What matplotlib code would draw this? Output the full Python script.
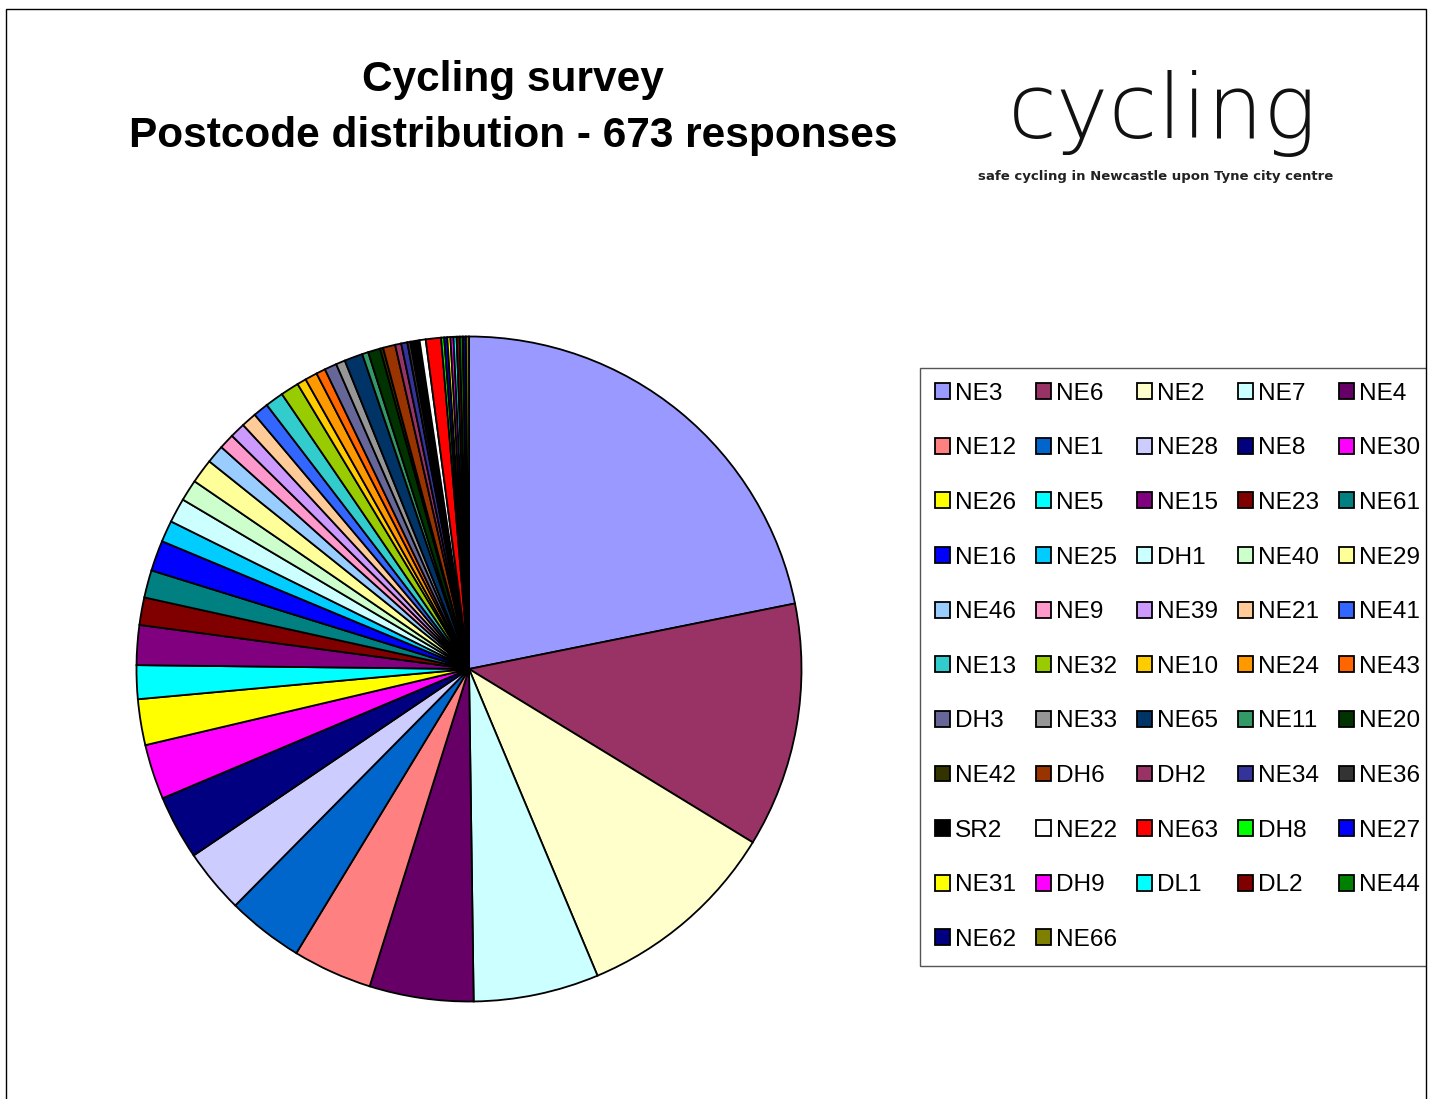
import matplotlib
matplotlib.use("Agg")
import matplotlib.pyplot as plt
from matplotlib.patches import Rectangle

# postcode counts (673 responses in total)
postcodes = ["NE3", "NE6", "NE2", "NE7", "NE4",
             "NE12", "NE1", "NE28", "NE8", "NE30",
             "NE26", "NE5", "NE15", "NE23", "NE61",
             "NE16", "NE25", "DH1", "NE40", "NE29",
             "NE46", "NE9", "NE39", "NE21", "NE41",
             "NE13", "NE32", "NE10", "NE24", "NE43",
             "DH3", "NE33", "NE65", "NE11", "NE20",
             "NE42", "DH6", "DH2", "NE34", "NE36",
             "SR2", "NE22", "NE63", "DH8", "NE27",
             "NE31", "DH9", "DL1", "DL2", "NE44",
             "NE62", "NE66"]
responses = [147, 80, 67, 41, 34,
             26, 25, 21, 21, 18,
             15, 11, 13, 9, 9,
             10, 7, 8, 7, 8,
             6, 5, 5, 5, 5,
             6, 6, 3, 4, 3,
             4, 3, 6, 2, 4,
             1, 4, 2, 2, 1,
             3, 2, 5, 1, 1,
             1, 1, 1, 1, 1,
             1, 1]
# old Excel chart palette, in series order
colours = ["#9999FF", "#993366", "#FFFFCC", "#CCFFFF", "#660066",
           "#FF8080", "#0066CC", "#CCCCFF", "#000080", "#FF00FF",
           "#FFFF00", "#00FFFF", "#800080", "#800000", "#008080",
           "#0000FF", "#00CCFF", "#CCFFFF", "#CCFFCC", "#FFFF99",
           "#99CCFF", "#FF99CC", "#CC99FF", "#FFCC99", "#3366FF",
           "#33CCCC", "#99CC00", "#FFCC00", "#FF9900", "#FF6600",
           "#666699", "#969696", "#003366", "#339966", "#003300",
           "#333300", "#993300", "#993366", "#333399", "#333333",
           "#000000", "#FFFFFF", "#FF0000", "#00FF00", "#0000FF",
           "#FFFF00", "#FF00FF", "#00FFFF", "#800000", "#008000",
           "#000080", "#808000"]

W, H = 1432, 1099


def fx(px):
    return px / W


def fy(py):
    return 1 - py / H


fig = plt.figure(figsize=(W / 100, H / 100), dpi=100)

# outer frame of the chart sheet (bottom edge falls outside the picture);
# anything to the right of it is blank, so the legend box gets cut off there
fig.patches.append(Rectangle((fx(1426.5), 0), 1 - fx(1426.5), 1,
                             transform=fig.transFigure, facecolor="white",
                             edgecolor="none", zorder=9))
fig.patches.append(Rectangle((fx(6), fy(1120)), fx(1426) - fx(6), fy(9) - fy(1120),
                             transform=fig.transFigure, fill=False, zorder=10,
                             edgecolor="black", linewidth=1.0, clip_on=False))

# title
fig.text(fx(513), fy(91), "Cycling survey", ha="center", va="baseline",
         fontsize=30.5, fontweight="bold", family="Liberation Sans")
fig.text(fx(513), fy(147), "Postcode distribution - 673 responses", ha="center",
         va="baseline", fontsize=30.5, fontweight="bold", family="Liberation Sans")

# logo (approximation of the hand drawn word mark)
fig.text(fx(1163), fy(138), "cycling", ha="center", va="baseline",
         fontsize=64, fontweight="light", family="DejaVu Sans", color="#111111")
fig.text(fx(1156), fy(180), "safe cycling in Newcastle upon Tyne city centre",
         ha="center", va="baseline", fontsize=9.5, fontweight="bold",
         family="DejaVu Sans", color="#222222")

# pie
cx, cy, r = 469, 669, 332.5
box = 345
ax = fig.add_axes([fx(cx - box), fy(cy + box), 2 * box / W, 2 * box / H])
wedges, _ = ax.pie(responses, colors=colours, startangle=90, counterclock=False,
                   radius=1.0, wedgeprops=dict(edgecolor="black", linewidth=1.3))
lim = box / r
ax.set_xlim(-lim, lim)
ax.set_ylim(-lim, lim)
ax.set_aspect("equal")
ax.axis("off")

# legend: matplotlib fills column by column, the original reads row by row
ncol = 5
order = [i for c in range(ncol) for i in range(c, len(postcodes), ncol)]
leg = fig.legend([wedges[i] for i in order], [postcodes[i] for i in order],
                 loc="upper left", bbox_to_anchor=(fx(920), fy(367.5)),
                 borderaxespad=0, ncol=ncol,
                 prop=dict(family="Liberation Sans", size=17.6),
                 handlelength=0.62, handleheight=0.62, handletextpad=0.2,
                 labelspacing=1.335, borderpad=0.62, columnspacing=0.81,
                 fancybox=False, framealpha=1, edgecolor="#555555")
leg.get_frame().set_linewidth(1.0)

fig.savefig("out.png", dpi=100)
